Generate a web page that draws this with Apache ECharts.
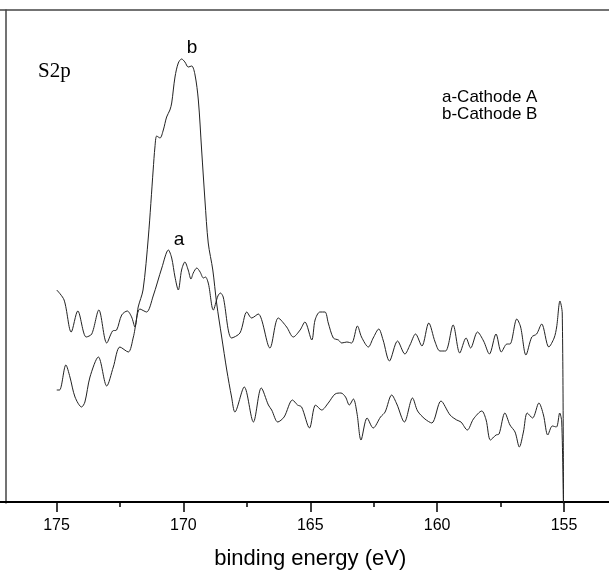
<!DOCTYPE html>
<html>
<head>
<meta charset="utf-8">
<script src="https://cdn.jsdelivr.net/npm/echarts@6/dist/echarts.min.js"></script>
<style>
html,body{margin:0;padding:0;background:#fff;}
#chart{width:609px;height:575px;}
</style>
</head>
<body>
<div id="chart"></div>
<script>
// Binding energy (eV) and intensity (a.u.)
var energyA = [174.99,174.88,174.63,174.47,174.27,174.01,173.88,173.68,173.35,173.02,
  172.76,172.50,172.17,171.97,171.71,171.45,171.19,170.85,170.59,170.46,
  170.33,170.20,170.07,169.94,169.81,169.70,169.61,169.47,169.34,169.21,
  169.13,169.01,168.82,168.64,168.54,168.43,168.10,167.77,167.50,167.31,
  167.05,166.59,166.26,165.93,165.67,165.40,165.21,164.94,164.81,164.62,
  164.42,164.29,164.09,163.89,163.76,163.56,163.37,163.14,162.98,162.71,
  162.52,162.30,162.13,161.88,161.56,161.27,161.07,160.85,160.60,160.33,
  160.08,159.89,159.67,159.37,159.11,158.86,158.68,158.41,158.17,157.94,
  157.68,157.47,157.25,157.13,156.86,156.71,156.50,156.27,156.08,155.88,
  155.60,155.39,155.29,155.16,155.07,155.02];
var intensityA = [112,112,137,125,105,95,100,125,145,116,
  135,155,150,165,193,190,206,234,252,244,
  225,212,232,240,232,223,229,234,230,224,
  225,218,192,206,209,205,164,169,190,184,
  188,154,184,175,165,172,180,162,182,190,
  190,179,164,162,159,160,159,176,165,155,
  164,173,162,141,161,148,157,168,156,179,
  160,151,151,177,149,164,154,170,161,148,
  168,150,158,158,183,175,147,165,168,178,
  155,164,175,201,189,-10];

var energyB = [174.99,174.70,174.42,174.16,173.83,173.61,173.33,173.02,172.79,172.63,
  172.43,172.21,172.04,171.91,171.78,171.59,171.38,171.19,171.12,171.05,
  170.92,170.79,170.66,170.53,170.46,170.33,170.20,170.07,169.94,169.81,
  169.67,169.54,169.41,169.28,169.15,169.02,168.84,168.69,168.49,168.29,
  168.10,167.97,167.60,167.24,166.93,166.65,166.52,166.28,166.03,165.70,
  165.50,165.34,165.03,164.79,164.55,164.29,164.02,163.79,163.61,163.46,
  163.30,163.16,163.00,162.76,162.52,162.23,162.05,161.79,161.59,161.29,
  160.97,160.77,160.48,160.21,159.85,159.49,159.23,159.06,158.81,158.57,
  158.24,158.07,157.90,157.68,157.56,157.33,157.13,156.93,156.76,156.60,
  156.45,156.24,155.99,155.81,155.64,155.46,155.30,155.17,155.09,155.02];
var intensityB = [212,202,170,191,165,168,192,159,171,172,
  187,191,185,175,195,212,265,332,355,366,
  364,372,385,392,399,425,439,443,440,435,
  436,427,402,352,302,259,232,199,165,132,
  105,90,115,80,114,97,92,80,85,102,
  97,95,74,97,92,99,108,109,105,97,
  103,89,62,84,74,85,90,107,98,80,
  104,91,83,79,101,87,82,80,72,83,
  91,82,62,67,68,89,77,70,55,70,
  89,84,99,87,67,76,75,89,80,-10];

var xTickLabels = ['155','160','165','170','175'];
var legendLines = ['a-Cathode A','b-Cathode B'];

function zip(xs, ys){ var out=[]; for(var i=0;i<xs.length;i++){ out.push([xs[i], ys[i]]); } return out; }

var chart = echarts.init(document.getElementById('chart'), null, {renderer:'canvas'});
var sans = '"Liberation Sans", Arial, sans-serif';
var serif = '"Liberation Serif", "Times New Roman", serif';

var option = {
  animation: false,
  backgroundColor: '#fff',
  grid: { left: -70.4, right: -81.9, top: 10, bottom: 72, containLabel: false, outerBoundsMode: 'none' },
  xAxis: [{
    type: 'value', inverse: true, min: 150, max: 180, interval: 5,
    position: 'bottom',
    axisLine: { show: true, lineStyle: { color: '#000', width: 2 } },
    axisTick: { show: true, length: 10, lineStyle: { color: '#000', width: 1.5 } },
    minorTick: { show: true, splitNumber: 2, length: 5, lineStyle: { color: '#000', width: 1.5 } },
    splitLine: { show: false },
    axisLabel: { show: true, color: '#000', fontSize: 16, fontFamily: sans, margin: 15,
      formatter: function(v){ var s = String(Math.round(v)); return xTickLabels.indexOf(s) >= 0 ? s : ''; } },
    name: 'binding energy (eV)', nameLocation: 'middle', nameGap: 45,
    nameTextStyle: { color: '#000', fontSize: 22, fontFamily: sans }
  }, {
    type: 'value', inverse: true, min: 150, max: 180, position: 'top',
    axisLine: { show: true, lineStyle: { color: '#444', width: 1.5 } },
    axisTick: { show: false }, axisLabel: { show: false }, splitLine: { show: false }
  }],
  yAxis: {
    type: 'value', min: -1, max: 492, offset: -76.4,
    axisLine: { show: true, lineStyle: { color: '#444', width: 1.5 } },
    axisTick: { show: false }, axisLabel: { show: false }, splitLine: { show: false }
  },
  series: [{
    name: 'a', type: 'line', xAxisIndex: 0, data: zip(energyA, intensityA),
    showSymbol: false, smooth: 0.3, clip: true,
    lineStyle: { color: '#222', width: 1 }
  }, {
    name: 'b', type: 'line', xAxisIndex: 0, data: zip(energyB, intensityB),
    showSymbol: false, smooth: 0.3, clip: true,
    lineStyle: { color: '#222', width: 1 }
  }],
  graphic: [
    { type: 'text', style: { x: 38, y: 71, text: 'S2p', font: '21px ' + serif, fill: '#000', textVerticalAlign: 'middle' } },
    { type: 'text', style: { x: 192, y: 48, text: 'b', font: '19px ' + sans, fill: '#000', textAlign: 'center', textVerticalAlign: 'middle' } },
    { type: 'text', style: { x: 179, y: 240, text: 'a', font: '19px ' + sans, fill: '#000', textAlign: 'center', textVerticalAlign: 'middle' } },
    { type: 'text', style: { x: 442, y: 97, text: legendLines[0], font: '17px ' + sans, fill: '#000', textVerticalAlign: 'middle' } },
    { type: 'text', style: { x: 442, y: 114, text: legendLines[1], font: '17px ' + sans, fill: '#000', textVerticalAlign: 'middle' } }
  ]
};
chart.setOption(option);
</script>
</body>
</html>
